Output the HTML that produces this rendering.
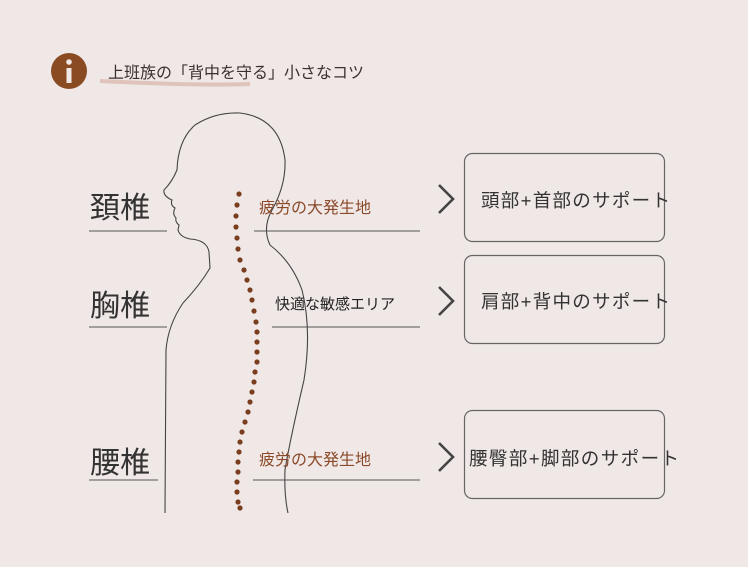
<!DOCTYPE html>
<html><head><meta charset="utf-8"><style>
body{margin:0;width:750px;height:579px;background:#fff;overflow:hidden}
svg{display:block}
text{font-family:"Liberation Sans","Noto Sans CJK JP",sans-serif}
</style></head><body>
<svg width="750" height="579" viewBox="0 0 750 579">
<rect x="0" y="0" width="748" height="567" fill="#f0e8e6"/>
<circle cx="69" cy="71" r="18" fill="#8a4a22"/>
<rect x="66.5" y="68" width="5" height="15" fill="#f0e8e6"/>
<circle cx="69" cy="62" r="2.8" fill="#f0e8e6"/>
<path d="M100 81 Q200 86 250 84" stroke="#d9b4a8" stroke-width="4" fill="none" opacity="0.7"/>
<text x="108" y="78" font-size="16" fill="#3a3030">上班族の「背中を守る」小さなコツ</text>
<g fill="none" stroke="#444" stroke-width="1.1">
<path d="M165 513 L166 350 Q168 325 183 303 Q200 285 210 268 L209 252 Q207 240 190 239 Q180 237 178 230 L179 225 Q175 222 176 218 Q172 214 175 208 Q170 205 172 200 Q163 196 164 190 Q172 182 177 170 Q178 140 195 125 Q215 112 240 113 Q280 118 285 160 Q286 185 272 210 Q262 228 270 245 Q292 262 302 290 Q312 330 304 380 Q290 440 285 470 Q284 495 288 513"/>
</g>
<g fill="#7a3e1f">
<circle cx="239" cy="194" r="2.6"/><circle cx="237" cy="205" r="2.6"/><circle cx="236" cy="216" r="2.6"/><circle cx="236" cy="227" r="2.6"/><circle cx="237" cy="238" r="2.6"/><circle cx="238" cy="249" r="2.6"/><circle cx="240" cy="260" r="2.6"/><circle cx="244" cy="270" r="2.6"/><circle cx="247" cy="280" r="2.6"/><circle cx="250" cy="290" r="2.6"/><circle cx="252" cy="300" r="2.6"/><circle cx="254" cy="311" r="2.6"/><circle cx="256" cy="322" r="2.6"/><circle cx="257" cy="332" r="2.6"/><circle cx="257" cy="342" r="2.6"/><circle cx="257" cy="352" r="2.6"/><circle cx="257" cy="362" r="2.6"/><circle cx="255" cy="372" r="2.6"/><circle cx="254" cy="382" r="2.6"/><circle cx="252" cy="392" r="2.6"/><circle cx="250" cy="402" r="2.6"/><circle cx="248" cy="412" r="2.6"/><circle cx="245" cy="422" r="2.6"/><circle cx="242" cy="432" r="2.6"/><circle cx="240" cy="442" r="2.6"/><circle cx="239" cy="452" r="2.6"/><circle cx="238" cy="462" r="2.6"/><circle cx="238" cy="472" r="2.6"/><circle cx="237" cy="482" r="2.6"/><circle cx="237" cy="492" r="2.6"/><circle cx="238" cy="502" r="2.6"/><circle cx="240" cy="508" r="2.6"/>
</g>
<g font-size="30" fill="#333">
<text x="90" y="218">頚椎</text><text x="90" y="316">胸椎</text><text x="90" y="473">腰椎</text>
</g>
<g stroke="#555" stroke-width="1">
<line x1="89" y1="231" x2="167" y2="231"/><line x1="89" y1="327" x2="167" y2="327"/><line x1="89" y1="480" x2="158" y2="480"/>
<line x1="254" y1="231" x2="420" y2="231"/><line x1="272" y1="327" x2="420" y2="327"/><line x1="253" y1="480" x2="420" y2="480"/>
</g>
<text x="259" y="213" font-size="16" fill="#8a4a2a">疲労の大発生地</text>
<text x="275" y="309" font-size="15" fill="#222">快適な敏感エリア</text>
<text x="259" y="465" font-size="16" fill="#8a4a2a">疲労の大発生地</text>
<g fill="none" stroke="#444" stroke-width="2.6">
<path d="M439 185 L453 199 L439 213"/><path d="M439 287 L453 301 L439 315"/><path d="M439 443 L453 457 L439 471"/>
</g>
<g fill="none" stroke="#666" stroke-width="1.2">
<rect x="464.5" y="153.5" width="200" height="88" rx="8"/>
<rect x="464.5" y="255.5" width="200" height="88" rx="8"/>
<rect x="464.5" y="410.5" width="200" height="88" rx="8"/>
</g>
<g font-size="18.5" fill="#333">
<text x="481" y="207" textLength="189" lengthAdjust="spacing">頭部+首部のサポート</text>
<text x="481" y="308" textLength="189" lengthAdjust="spacing">肩部+背中のサポート</text>
<text x="469" y="465" textLength="210" lengthAdjust="spacing">腰臀部+脚部のサポート</text>
</g>
</svg>
</body></html>
